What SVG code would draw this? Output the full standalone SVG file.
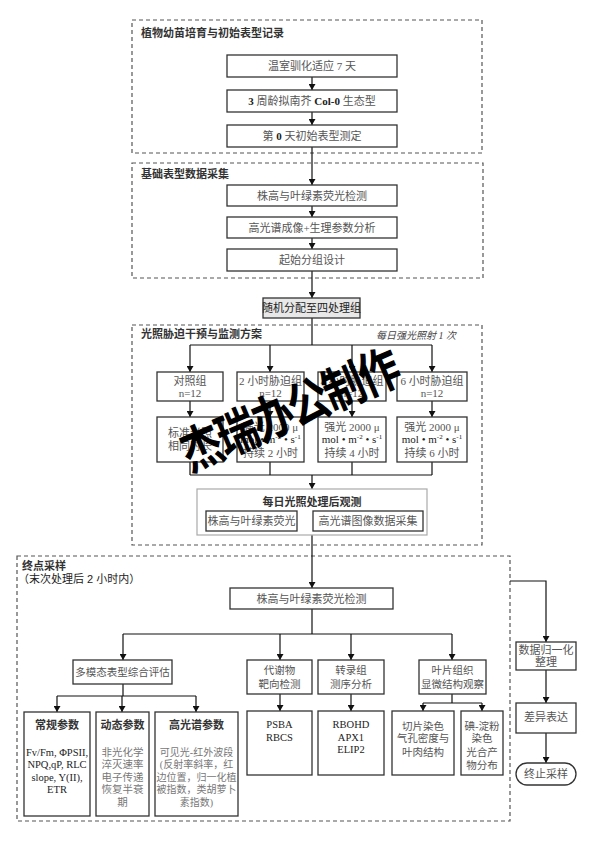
<svg xmlns="http://www.w3.org/2000/svg" width="594" height="841" viewBox="0 0 594 841">
<defs>
<marker id="ah" markerWidth="6" markerHeight="7" refX="6" refY="3.5" orient="auto" markerUnits="userSpaceOnUse">
<path d="M0,0 L6,3.5 L0,7 z" fill="#111"/>
</marker>
<style>
.sec{fill:none;stroke:#555;stroke-width:1.2;stroke-dasharray:4,3}
.bx{fill:#fff;stroke:#333;stroke-width:1.3}
.gb{fill:#e8e8e8;stroke:#333;stroke-width:1.3}
.ob{fill:#fff;stroke:#aaa;stroke-width:1.2}
.t{font-family:'Liberation Serif','Noto Sans CJK SC',serif;font-size:11px;fill:#555;text-anchor:middle}
.s{font-size:10.5px}
.dk{fill:#222}
.lg{fill:#777}
.h{font-family:'Liberation Sans','Noto Sans CJK SC',sans-serif;font-size:11px;font-weight:bold;fill:#333}
.hm{font-family:'Liberation Sans','Noto Sans CJK SC',sans-serif;font-size:11px;font-weight:bold;fill:#333;text-anchor:middle}
.ln{fill:none;stroke:#111;stroke-width:1.2}
.ar{fill:none;stroke:#111;stroke-width:1.2;marker-end:url(#ah)}
.sup{font-size:7px}
</style>
</defs>

<g id="sections">
<rect class="sec" x="132" y="20" width="350" height="133"/>
<text class="h" x="141" y="37">植物幼苗培育与初始表型记录</text>
<rect class="sec" x="132" y="163" width="351" height="115"/>
<text class="h" x="141" y="178">基础表型数据采集</text>
<rect class="sec" x="132" y="325" width="350" height="220"/>
<text class="h" x="141" y="338">光照胁迫干预与监测方案</text>
<text x="416" y="339" style="font-family:'Liberation Serif','Noto Sans CJK SC',serif;font-size:10px;fill:#444;text-anchor:middle;font-style:italic">每日强光照射 1 次</text>
<rect class="sec" x="17" y="556" width="493" height="265"/>
<text class="h" x="22" y="570">终点采样</text>
<text class="h" x="18" y="583" style="font-weight:normal;fill:#222">（末次处理后 2 小时内）</text>
</g>

<g id="connectors">
<line class="ar" x1="312" y1="77" x2="312" y2="90"/>
<line class="ar" x1="312" y1="112" x2="312" y2="125"/>
<line class="ar" x1="312" y1="147" x2="312" y2="185"/>
<line class="ar" x1="312" y1="206" x2="312" y2="217"/>
<line class="ar" x1="312" y1="238" x2="312" y2="249"/>
<line class="ar" x1="312" y1="271" x2="312" y2="298"/>
<line class="ln" x1="312" y1="318" x2="312" y2="345"/>
<line class="ln" x1="190" y1="345" x2="432" y2="345"/>
<line class="ar" x1="190" y1="345" x2="190" y2="372"/>
<line class="ar" x1="270" y1="345" x2="270" y2="372"/>
<line class="ar" x1="352" y1="345" x2="352" y2="372"/>
<line class="ar" x1="432" y1="345" x2="432" y2="372"/>
<line class="ar" x1="190" y1="401" x2="190" y2="417"/>
<line class="ar" x1="270" y1="401" x2="270" y2="417"/>
<line class="ar" x1="352" y1="401" x2="352" y2="417"/>
<line class="ar" x1="432" y1="401" x2="432" y2="417"/>
<line class="ln" x1="190" y1="462" x2="190" y2="475"/>
<line class="ln" x1="270" y1="462" x2="270" y2="475"/>
<line class="ln" x1="352" y1="462" x2="352" y2="475"/>
<line class="ln" x1="432" y1="462" x2="432" y2="475"/>
<line class="ln" x1="190" y1="475" x2="432" y2="475"/>
<line class="ar" x1="312" y1="475" x2="312" y2="489"/>
<line class="ar" x1="312" y1="535" x2="312" y2="588"/>
<line class="ln" x1="312" y1="609" x2="312" y2="634"/>
<line class="ln" x1="123" y1="634" x2="452" y2="634"/>
<line class="ar" x1="123" y1="634" x2="123" y2="660"/>
<line class="ar" x1="280" y1="634" x2="280" y2="660"/>
<line class="ar" x1="351" y1="634" x2="351" y2="660"/>
<line class="ar" x1="452" y1="634" x2="452" y2="660"/>
<line class="ln" x1="123" y1="684" x2="123" y2="696"/>
<line class="ln" x1="57" y1="696" x2="196" y2="696"/>
<line class="ar" x1="57" y1="696" x2="57" y2="712"/>
<line class="ar" x1="122" y1="696" x2="122" y2="712"/>
<line class="ar" x1="196" y1="696" x2="196" y2="712"/>
<line class="ar" x1="280" y1="694" x2="280" y2="711"/>
<line class="ar" x1="351" y1="694" x2="351" y2="711"/>
<line class="ln" x1="452" y1="694" x2="452" y2="703"/>
<line class="ln" x1="423" y1="703" x2="482" y2="703"/>
<line class="ar" x1="423" y1="703" x2="423" y2="711"/>
<line class="ar" x1="482" y1="703" x2="482" y2="711"/>
<polyline class="ar" points="510,581 546,581 546,642"/>
<line class="ar" x1="546" y1="670" x2="546" y2="703"/>
<line class="ar" x1="546" y1="733" x2="546" y2="763"/>
</g>

<g id="n1"><rect class="bx" x="227" y="55" width="170" height="22"/><text class="t" x="312" y="70">温室驯化适应 7 天</text></g>
<g id="n2"><rect class="bx" x="227" y="90" width="170" height="22"/><text class="t" x="312" y="105"><tspan class="dk" font-weight="bold">3</tspan> 周龄拟南芥 <tspan class="dk" font-weight="bold">Col-0</tspan> 生态型</text></g>
<g id="n3"><rect class="bx" x="227" y="125" width="170" height="22"/><text class="t" x="312" y="140">第 <tspan class="dk" font-weight="bold">0</tspan> 天初始表型测定</text></g>

<g id="n4"><rect class="bx" x="227" y="185" width="170" height="21"/><text class="t" x="312" y="199.5">株高与叶绿素荧光检测</text></g>
<g id="n5"><rect class="bx" x="227" y="217" width="170" height="21"/><text class="t" x="312" y="231.5">高光谱成像+生理参数分析</text></g>
<g id="n6"><rect class="bx" x="227" y="249" width="170" height="22"/><text class="t" x="312" y="264">起始分组设计</text></g>

<g id="n7"><rect class="gb" x="263" y="298" width="97" height="20"/><text class="t dk" x="311.5" y="312">随机分配至四处理组</text></g>

<g id="g1"><rect class="bx" x="157" y="372" width="66" height="29"/><text class="t" x="190" y="385">对照组</text><text class="t" x="190" y="397">n=12</text></g>
<g id="g2"><rect class="bx" x="237" y="372" width="67" height="29"/><text class="t" x="270.5" y="385">2 小时胁迫组</text><text class="t" x="270.5" y="397">n=12</text></g>
<g id="g3"><rect class="bx" x="318" y="372" width="68" height="29"/><text class="t" x="352" y="385">4 小时胁迫组</text><text class="t" x="352" y="397">n=12</text></g>
<g id="g4"><rect class="bx" x="397" y="372" width="70" height="29"/><text class="t" x="432" y="385">6 小时胁迫组</text><text class="t" x="432" y="397">n=12</text></g>

<g id="p1"><rect class="bx" x="157" y="417" width="66" height="45"/><text class="t" x="190" y="437">标准光照</text><text class="t" x="190" y="450">相同时长</text></g>
<g id="p2"><rect class="bx" x="237" y="417" width="67" height="45"/><text class="t" x="270.5" y="431">强光 2000  μ</text><text class="t dk" x="270.5" y="443">mol • m<tspan class="sup" dy="-4">-2</tspan><tspan dy="4"> • s</tspan><tspan class="sup" dy="-4">-1</tspan></text><text class="t" x="270.5" y="457">持续 2 小时</text></g>
<g id="p3"><rect class="bx" x="318" y="417" width="68" height="45"/><text class="t" x="352" y="431">强光 2000  μ</text><text class="t dk" x="352" y="443">mol • m<tspan class="sup" dy="-4">-2</tspan><tspan dy="4"> • s</tspan><tspan class="sup" dy="-4">-1</tspan></text><text class="t" x="352" y="457">持续 4 小时</text></g>
<g id="p4"><rect class="bx" x="397" y="417" width="70" height="45"/><text class="t" x="432" y="431">强光 2000  μ</text><text class="t dk" x="432" y="443">mol • m<tspan class="sup" dy="-4">-2</tspan><tspan dy="4"> • s</tspan><tspan class="sup" dy="-4">-1</tspan></text><text class="t" x="432" y="457">持续 6 小时</text></g>

<g id="obs"><rect class="ob" x="197" y="489" width="230" height="46"/><text class="hm" x="312" y="506">每日光照处理后观测</text>
<rect class="bx" x="206" y="511" width="91" height="20"/><text class="t" x="251.5" y="525">株高与叶绿素荧光</text>
<rect class="bx" x="313" y="511" width="110" height="20"/><text class="t" x="368" y="525">高光谱图像数据采集</text></g>

<g id="e1"><rect class="bx" x="230" y="588" width="163" height="21"/><text class="t" x="311.5" y="602.5">株高与叶绿素荧光检测</text></g>

<g id="m1"><rect class="bx" x="73" y="660" width="99" height="24"/><text class="t s" x="122.5" y="676">多模态表型综合评估</text></g>
<g id="m2"><rect class="bx" x="247" y="660" width="65" height="34"/><text class="t s" x="279.5" y="674">代谢物</text><text class="t s" x="279.5" y="688">靶向检测</text></g>
<g id="m3"><rect class="bx" x="318" y="660" width="66" height="34"/><text class="t s" x="351" y="674">转录组</text><text class="t s" x="351" y="688">测序分析</text></g>
<g id="m4"><rect class="bx" x="419" y="660" width="67" height="34"/><text class="t s" x="452.5" y="674">叶片组织</text><text class="t s" x="452.5" y="688">显微结构观察</text></g>

<g id="c1"><rect class="bx" x="24" y="712" width="66" height="104"/><text class="hm" x="57" y="729">常规参数</text>
<text class="t s dk" x="57" y="756">Fv/Fm, ΦPSII,</text><text class="t s dk" x="57" y="768">NPQ,qP, RLC</text><text class="t s dk" x="57" y="781">slope, Y(II),</text><text class="t s dk" x="57" y="793">ETR</text></g>
<g id="c2"><rect class="bx" x="96" y="712" width="53" height="104"/><text class="hm" x="122.5" y="729">动态参数</text>
<text class="t s lg" x="122.5" y="756">非光化学</text><text class="t s lg" x="122.5" y="768">淬灭速率</text><text class="t s lg" x="122.5" y="781">电子传递</text><text class="t s lg" x="122.5" y="793">恢复半衰</text><text class="t s lg" x="122.5" y="806">期</text></g>
<g id="c3"><rect class="bx" x="155" y="712" width="83" height="104"/><text class="hm" x="196.5" y="729">高光谱参数</text>
<text class="t lg" style="font-size:10px" x="196.5" y="756">可见光-红外波段</text><text class="t lg" style="font-size:10px" x="196.5" y="768">(反射率斜率，红</text><text class="t lg" style="font-size:10px" x="196.5" y="781">边位置，归一化植</text><text class="t lg" style="font-size:10px" x="196.5" y="793">被指数，类胡萝卜</text><text class="t lg" style="font-size:10px" x="196.5" y="806">素指数)</text></g>

<g id="d1"><rect class="bx" x="247" y="711" width="65" height="64"/><text class="t s dk" x="279.5" y="728">PSBA</text><text class="t s dk" x="279.5" y="741">RBCS</text></g>
<g id="d2"><rect class="bx" x="318" y="711" width="66" height="64"/><text class="t s dk" x="351" y="728">RBOHD</text><text class="t s dk" x="351" y="741">APX1</text><text class="t s dk" x="351" y="753">ELIP2</text></g>
<g id="d3"><rect class="bx" x="392" y="711" width="62" height="64"/><text class="t s" x="423" y="730">切片染色</text><text class="t s" x="423" y="742">气孔密度与</text><text class="t s" x="423" y="756">叶肉结构</text></g>
<g id="d4"><rect class="bx" x="461" y="711" width="42" height="64"/><text class="t s" x="482" y="730">碘-淀粉</text><text class="t s" x="482" y="742">染色</text><text class="t s" x="482" y="756">光合产</text><text class="t s" x="482" y="769">物分布</text></g>

<g id="r1"><rect class="bx" x="516" y="642" width="60" height="28"/><text class="t" x="546" y="654">数据归一化</text><text class="t" x="546" y="666">整理</text></g>
<g id="r2"><rect class="bx" x="516" y="703" width="60" height="30"/><text class="t" x="546" y="721">差异表达</text></g>
<g id="r3"><rect class="bx" x="516" y="763" width="60" height="22" rx="11"/><text class="t" x="546" y="778">终止采样</text></g>

<g id="watermark"><text transform="translate(190 472) rotate(-23) scale(0.82 1)" x="0" y="0" style="font-family:'Noto Sans CJK SC',sans-serif;font-size:50px;font-weight:bold;letter-spacing:-3px;fill:#000">杰瑞办公制作</text></g>
</svg>
